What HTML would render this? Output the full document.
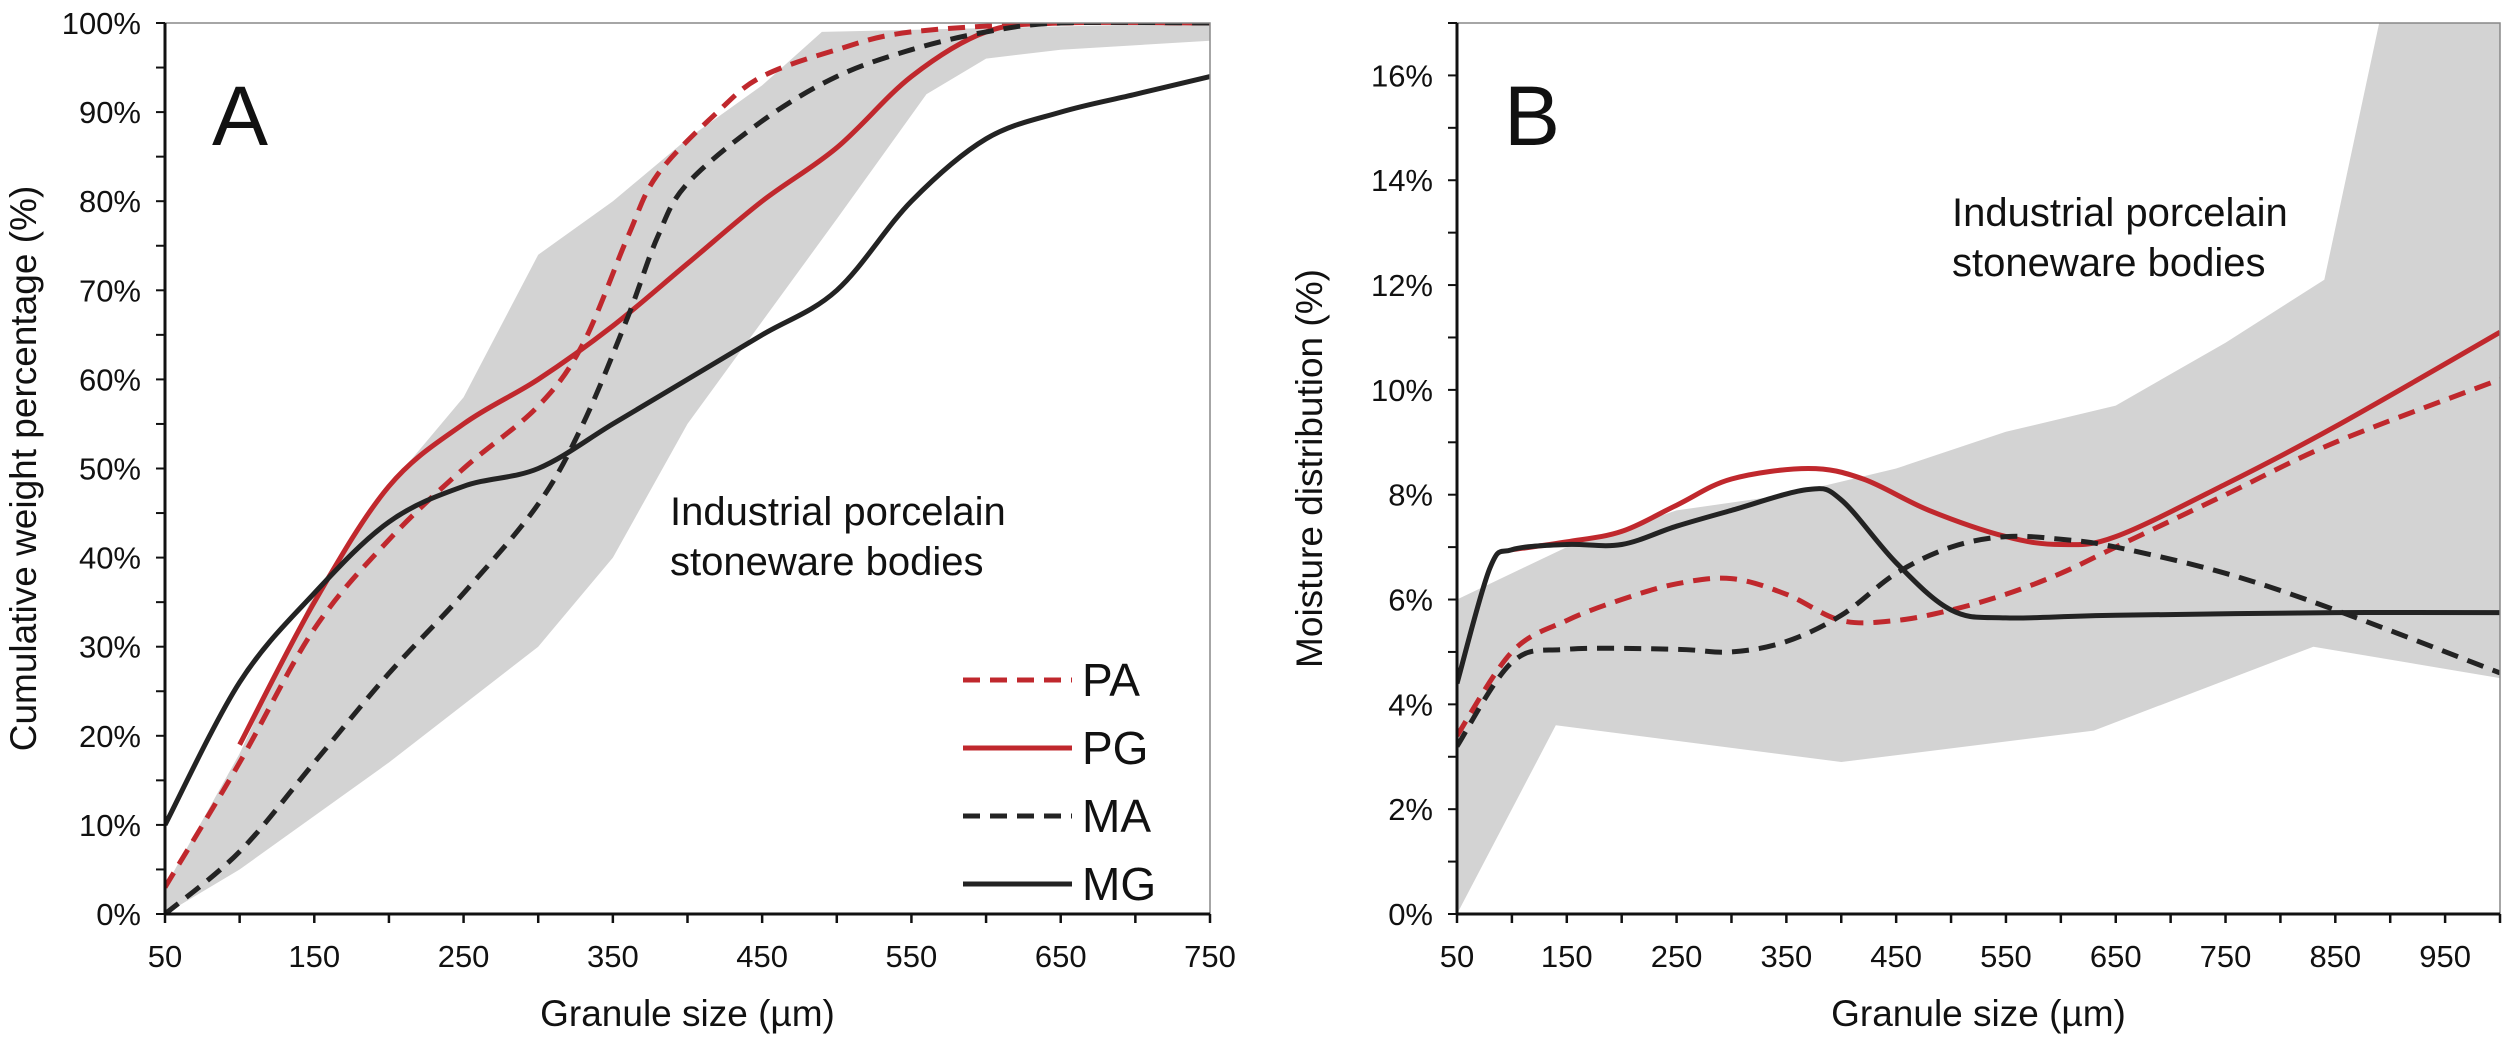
<!DOCTYPE html>
<html><head><meta charset="utf-8">
<style>
html,body{margin:0;padding:0;background:#fff;}
svg{display:block;}
text{font-family:"Liberation Sans",sans-serif;fill:#111;}
.tick{font-family:"Liberation Sans Narrow","Liberation Sans",sans-serif;font-size:31px;}
</style></head>
<body>
<svg id="chart" width="2508" height="1040" viewBox="0 0 2508 1040"></svg>
<script>
// ---- Panel A data ----
const aTicksX = [50,150,250,350,450,550,650,750];
const aTicksY = [0,10,20,30,40,50,60,70,80,90,100];
const aBandUpperX = [50,100,150,200,250,300,350,400,450,490,750];
const aBandUpperY = [3,18,36,48,58,74,80,87,93,99,100];
const aBandLowerX = [50,100,200,300,350,400,500,560,600,650,750];
const aBandLowerY = [0,5,17,30,40,55,78,92,96,97,98];
const aPAx = [50,100,150,200,250,300,330,360,380,420,450,500,550,650,750];
const aPAy = [3,17,32,42,50,57,64,76,83,90,94,97,99,100,100];
const aPGx = [100,150,200,250,300,350,400,450,500,550,600,650,750];
const aPGy = [19,35,48,55,60,66,73,80,86,94,99,100,100];
const aMAx = [50,100,150,200,250,300,330,360,380,400,450,500,550,600,650,750];
const aMAy = [0,7,17,27,36,46,55,67,76,82,89,94,97,99,100,100];
const aMGx = [50,100,150,200,250,300,350,400,450,500,550,600,650,700,750];
const aMGy = [10,26,36,44,48,50,55,60,65,70,80,87,90,92,94];
// ---- Panel B data ----
const bTicksX = [50,150,250,350,450,550,650,750,850,950];
const bTicksY = [0,2,4,6,8,10,12,14,16];
const bBandUpperX = [50,150,250,350,450,550,650,750,840,890,1000];
const bBandUpperY = [6,7,7.7,8,8.5,9.2,9.7,10.9,12.1,17,17];
const bBandLowerX = [50,140,400,630,830,1000];
const bBandLowerY = [0,3.6,2.9,3.5,5.1,4.5];
const bPAx = [50,100,150,200,250,300,350,400,450,500,550,600,650,750,850,1000];
const bPAy = [3.4,5,5.6,6,6.3,6.4,6.1,5.6,5.6,5.8,6.1,6.5,7,8,9,10.2];
const bPGx = [100,150,200,250,300,370,420,480,550,600,650,750,850,1000];
const bPGy = [6.95,7.1,7.3,7.8,8.3,8.5,8.3,7.7,7.2,7.05,7.2,8.2,9.3,11.1];
const bMAx = [50,100,150,250,300,350,400,450,500,550,600,650,750,850,1000];
const bMAy = [3.2,4.8,5.05,5.05,5.0,5.2,5.7,6.5,7.0,7.2,7.15,7.0,6.5,5.8,4.6];
const bMGx = [50,80,100,150,200,250,300,370,400,450,500,550,650,850,1000];
const bMGy = [4.4,6.6,6.95,7.05,7.05,7.4,7.7,8.1,7.9,6.7,5.8,5.65,5.7,5.75,5.75];

const NS="http://www.w3.org/2000/svg";
const svg=document.getElementById('chart');
const RED="#c0282d", BLK="#232323", GRAY="#d3d3d3";

function mk(tag,attrs,parent){const e=document.createElementNS(NS,tag);for(const k in attrs)e.setAttribute(k,attrs[k]);(parent||svg).appendChild(e);return e;}
function smooth(pts){
  let d="M"+pts[0][0].toFixed(1)+","+pts[0][1].toFixed(1);
  for(let i=0;i<pts.length-1;i++){
    const p0=pts[Math.max(0,i-1)],p1=pts[i],p2=pts[i+1],p3=pts[Math.min(pts.length-1,i+2)];
    const c1=[p1[0]+(p2[0]-p0[0])/6,p1[1]+(p2[1]-p0[1])/6];
    const c2=[p2[0]-(p3[0]-p1[0])/6,p2[1]-(p3[1]-p1[1])/6];
    d+=" C"+c1[0].toFixed(1)+","+c1[1].toFixed(1)+" "+c2[0].toFixed(1)+","+c2[1].toFixed(1)+" "+p2[0].toFixed(1)+","+p2[1].toFixed(1);
  }
  return d;
}

function panel(cfg){
  const g=mk('g',{});
  
  
  const sx=v=>cfg.x0+(v-cfg.xmin)/(cfg.xmax-cfg.xmin)*(cfg.x1-cfg.x0);
  const sy=v=>cfg.y0-(v-cfg.ymin)/(cfg.ymax-cfg.ymin)*(cfg.y0-cfg.y1);
  const clip=mk('clipPath',{id:cfg.name+'-clip'},g);
  mk('rect',{x:cfg.x0,y:cfg.y1,width:cfg.x1-cfg.x0,height:cfg.y0-cfg.y1},clip);
  const pg=mk('g',{'clip-path':'url(#'+cfg.name+'-clip)'},g);
  // band
  let bd="";
  cfg.bu[0].forEach((v,i)=>{bd+=(i?"L":"M")+sx(v).toFixed(1)+","+sy(cfg.bu[1][i]).toFixed(1);});
  for(let i=cfg.bl[0].length-1;i>=0;i--)bd+="L"+sx(cfg.bl[0][i]).toFixed(1)+","+sy(cfg.bl[1][i]).toFixed(1);
  const band=mk('path',{d:bd+"Z",fill:GRAY},pg);
  
  
  cfg.series.forEach(s=>{
    const pts=s.x.map((v,i)=>[sx(v),sy(s.y[i])]);
    const p=mk('path',{d:smooth(pts),fill:'none',stroke:s.c,'stroke-width':5,'stroke-dasharray':s.dash?'17,10':'none'},pg);
    
    
  });
  // axes frame
  const fr=mk('rect',{x:cfg.x0,y:cfg.y1,width:cfg.x1-cfg.x0,height:cfg.y0-cfg.y1,fill:'none',stroke:'#888','stroke-width':1.5},g);
  
  
  mk('line',{x1:cfg.x0,y1:cfg.y0,x2:cfg.x1,y2:cfg.y0,stroke:'#111','stroke-width':3},g);
  mk('line',{x1:cfg.x0,y1:cfg.y0,x2:cfg.x0,y2:cfg.y1,stroke:'#111','stroke-width':3},g);
  // x ticks
  const xstep=cfg.tx[1]-cfg.tx[0];
  for(let v=cfg.xmin;v<=cfg.xmax+0.01;v+=xstep/2){
    mk('line',{x1:sx(v),y1:cfg.y0,x2:sx(v),y2:cfg.y0+9,stroke:'#111','stroke-width':2.5},g);
  }
  cfg.tx.forEach(v=>{
    const t=mk('text',{x:sx(v),y:cfg.y0+53,'text-anchor':'middle','class':'tick'},g);
    t.textContent=v;
    
    
  });
  const ystep=cfg.ty[1]-cfg.ty[0];
  for(let v=cfg.ymin;v<=cfg.ymax+0.001;v+=ystep/2){
    mk('line',{x1:cfg.x0-9,y1:sy(v),x2:cfg.x0,y2:sy(v),stroke:'#111','stroke-width':2},g);
  }
  cfg.ty.forEach(v=>{
    const t=mk('text',{x:cfg.x0-24,y:sy(v)+11,'text-anchor':'end','class':'tick'},g);
    t.textContent=v+"%";
    
    
  });
  const xt=mk('text',{x:(cfg.x0+cfg.x1)/2,y:1026,'text-anchor':'middle','font-size':37},g);
  xt.textContent="Granule size (µm)";
  
  
  const yt=mk('text',{x:0,y:0,'text-anchor':'middle','font-size':37,transform:'translate('+cfg.ytx+','+((cfg.y0+cfg.y1)/2)+') rotate(-90)'},g);
  yt.textContent=cfg.ytitle;
  
  
  const pl=mk('text',{x:cfg.plx,y:cfg.ply,'font-size':84},g);
  pl.textContent=cfg.letter;
  
  
  const an=mk('text',{x:cfg.anx,y:cfg.any,'font-size':40},g);
  
  
  const t1=mk('tspan',{x:cfg.anx},an);t1.textContent="Industrial porcelain";
  const t2=mk('tspan',{x:cfg.anx,dy:50},an);t2.textContent="stoneware bodies";
  return {g,sx,sy};
}

const A=panel({name:'panel-a',letter:'A',x0:165,x1:1210,y0:914,y1:23,xmin:50,xmax:750,ymin:0,ymax:100,
  tx:aTicksX,ty:aTicksY,ytitle:'Cumulative weight percentage (%)',ytx:36,plx:212,ply:145,anx:670,any:525,
  bu:[aBandUpperX,aBandUpperY],bl:[aBandLowerX,aBandLowerY],
  series:[{n:'pa',x:aPAx,y:aPAy,c:RED,dash:1},{n:'pg',x:aPGx,y:aPGy,c:RED},{n:'ma',x:aMAx,y:aMAy,c:BLK,dash:1},{n:'mg',x:aMGx,y:aMGy,c:BLK}]});
const B=panel({name:'panel-b',letter:'B',x0:1457,x1:2500,y0:914,y1:23,xmin:50,xmax:1000,ymin:0,ymax:17,
  tx:bTicksX,ty:bTicksY,ytitle:'Moisture distribution (%)',ytx:1322,plx:1504,ply:145,anx:1952,any:226,
  bu:[bBandUpperX,bBandUpperY],bl:[bBandLowerX,bBandLowerY],
  series:[{n:'pa',x:bPAx,y:bPAy,c:RED,dash:1},{n:'pg',x:bPGx,y:bPGy,c:RED},{n:'ma',x:bMAx,y:bMAy,c:BLK,dash:1},{n:'mg',x:bMGx,y:bMGy,c:BLK}]});

// legend
const legNames=['PA','PG','MA','MG'];
const legColors=[RED,RED,BLK,BLK];
const legDash=[1,0,1,0];
const lg=mk('g',{});


legNames.forEach((n,i)=>{
  const y=680+i*68;
  const e=mk('g',{},lg);
  
  
  mk('line',{x1:963,y1:y,x2:1072,y2:y,stroke:legColors[i],'stroke-width':5,'stroke-dasharray':legDash[i]?'17,10':'none'},e);
  const t=mk('text',{x:1082,y:y+16,'font-size':46},e);
  t.textContent=n;
});
</script>
</body></html>
